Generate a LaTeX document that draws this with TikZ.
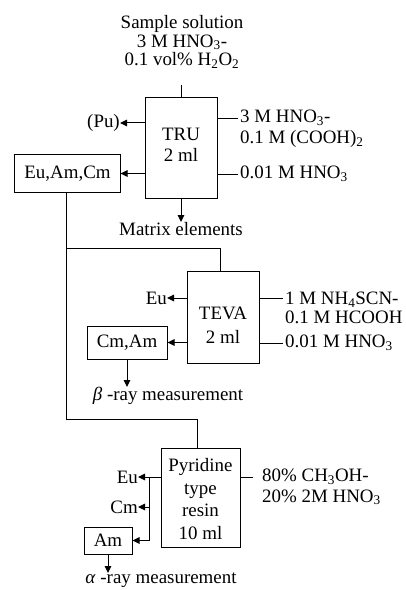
\documentclass[tikz,border=0pt]{standalone}
\usepackage{fontspec}
\setmainfont{Liberation Serif}
\usetikzlibrary{arrows.meta}
\begin{document}
\begin{tikzpicture}[x=1bp,y=-1bp,
  font=\fontsize{19}{19}\selectfont,
  box/.style={draw, line width=1bp, inner sep=0pt},
  lbl/.style={inner sep=0pt},
  arr/.style={-{Triangle[length=7bp,width=6.5bp]}, line width=1bp},
  ln/.style={line width=1bp}]
\useasboundingbox (0,0) rectangle (405,590);

% ---- TRU column
\node[lbl, align=center, font=\fontsize{19}{18.5}\selectfont] (sample) at (182,42) {Sample solution\\3 M HNO\textsubscript{3}-\\0.1 vol\% H\textsubscript{2}O\textsubscript{2}};
\node[box, minimum width=72bp, minimum height=100bp] (tru) at (181,148) {};
\node[lbl, align=center, font=\fontsize{19}{21}\selectfont] (trut) at (181,145) {TRU\\2 ml};
\coordinate (trutop) at (181,85);
\draw[ln] (trutop) -- (tru.north);

\node[lbl, anchor=east] (pu) at (120,123) {(Pu)};
\draw[arr] (tru.west |- pu.east) -- (pu.east);

\node[lbl, anchor=west, align=left, font=\fontsize{19}{21}\selectfont] (r1) at (240,129) {3 M HNO\textsubscript{3}-\\0.1 M (COOH)\textsubscript{2}};
\coordinate (r1a) at (238,119);
\draw[ln] (tru.east |- r1a) -- (r1a);
\node[lbl, anchor=west] (r2) at (240,174) {0.01 M HNO\textsubscript{3}};
\draw[ln] (tru.east |- r2.west) -- ([xshift=-2bp]r2.west);

\node[box, minimum width=105bp, minimum height=37bp] (eac) at (67.5,173.5) {Eu,Am,Cm};
\draw[arr] (tru.west |- eac.east) -- (eac.east);

\node[lbl, anchor=north] (matrix) at (181,222) {Matrix elements};
\draw[arr] (tru.south) -- (matrix.north);

% ---- TEVA
\node[box, minimum width=72bp, minimum height=92bp] (teva) at (223,317) {};
\node[lbl, align=center, font=\fontsize{19}{24}\selectfont] (tevat) at (223,325) {TEVA\\2 ml};
\coordinate (c2) at (66.5,248);
\coordinate (tevain) at (220,271);
\draw[ln] (c2) -| (tevain);

\node[lbl, anchor=east] (eu1) at (167,298) {Eu};
\draw[arr] (teva.west |- eu1.east) -- (eu1.east);
\node[box, minimum width=80bp, minimum height=33bp] (cma) at (127,342.5) {Cm,Am};
\draw[arr] (teva.west |- cma.east) -- (cma.east);
\node[lbl, anchor=north] (beta) at (168,387) {\textit{β} -ray measurement};
\draw[arr] (cma.south) -- (cma.south |- beta.north);

\node[lbl, anchor=west, align=left, font=\fontsize{19}{19.5}\selectfont] (r3) at (285,308) {1 M NH\textsubscript{4}SCN-\\0.1 M HCOOH};
\coordinate (r3a) at (283,298);
\draw[ln] (teva.east |- r3a) -- (r3a);
\node[lbl, anchor=west] (r4) at (285,343) {0.01 M HNO\textsubscript{3}};
\draw[ln] (teva.east |- r4.west) -- ([xshift=-2bp]r4.west);

% ---- Pyridine
\node[box, minimum width=79bp, minimum height=99bp] (pyr) at (200.5,497.5) {};
\node[lbl, align=center, font=\fontsize{19}{22.6}\selectfont] (pyrt) at (200.5,499) {Pyridine\\type\\resin\\10 ml};
\coordinate (c1) at (66.5,419);
\coordinate (eacout) at (66.5,192);
\coordinate (pyrin) at (197,448);
\draw[ln] (eacout) -- (c1) -| (pyrin);

\node[lbl, anchor=east] (eu2) at (138,477) {Eu};
\draw[arr] (pyr.west |- eu2.east) -- (eu2.east);
\coordinate (b) at (149,477);
\node[lbl, anchor=east] (cm2) at (138,507) {Cm};
\node[box, minimum width=48bp, minimum height=27bp] (am) at (108,540.5) {Am};
\draw[ln] (b) -- (b |- am.east);
\draw[arr] (b |- cm2.east) -- (cm2.east);
\draw[arr] (b |- am.east) -- (am.east);
\node[lbl, anchor=north] (alpha) at (161,573) {\textit{α} -ray measurement};
\draw[arr] (am.south) -- (am.south |- alpha.north);

\node[lbl, anchor=west, align=left, font=\fontsize{19}{20.5}\selectfont] (r5) at (262,487) {80\% CH\textsubscript{3}OH-\\20\% 2M HNO\textsubscript{3}};
\coordinate (r5a) at (253,477);
\draw[ln] (pyr.east |- r5a) -- (r5a);
\end{tikzpicture}
\end{document}
